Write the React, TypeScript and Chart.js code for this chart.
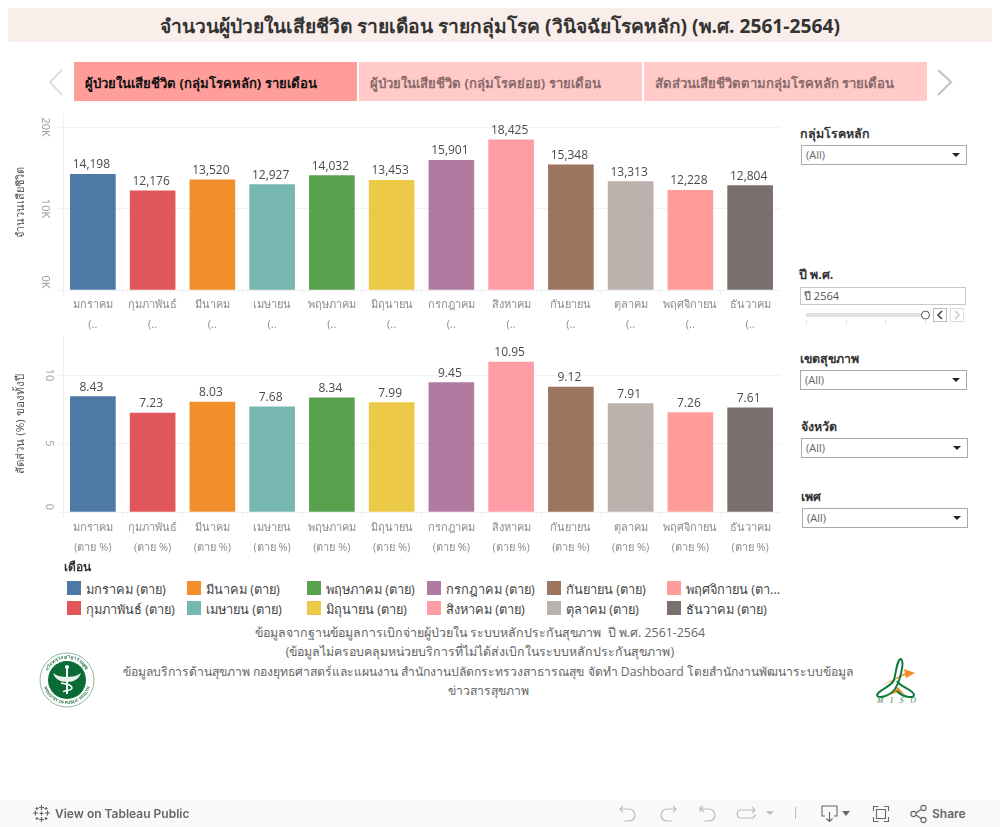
import React, { useEffect, useRef } from "react";
import { Chart, registerables } from "chart.js";

Chart.register(...registerables);

const months = ["มกราคม","กุมภาพันธ์","มีนาคม","เมษายน","พฤษภาคม","มิถุนายน","กรกฎาคม","สิงหาคม","กันยายน","ตุลาคม","พฤศจิกายน","ธันวาคม"];
const deaths = [14198,12176,13520,12927,14032,13453,15901,18425,15348,13313,12228,12804];
const shares = [8.43,7.23,8.03,7.68,8.34,7.99,9.45,10.95,9.12,7.91,7.26,7.61];
const deathTicks = [0,10000,20000];
const shareTicks = [0,5,10];
const colors = ["#4e79a7","#e15759","#f28e2b","#76b7b2","#59a14f","#edc948","#b07aa1","#ff9da7","#9c755f","#bab0ac","#ff9d9a","#79706e"];
const legendLabels = ["มกราคม (ตาย)","กุมภาพันธ์ (ตาย)","มีนาคม (ตาย)","เมษายน (ตาย)","พฤษภาคม (ตาย)","มิถุนายน (ตาย)","กรกฎาคม (ตาย)","สิงหาคม (ตาย)","กันยายน (ตาย)","ตุลาคม (ตาย)","พฤศจิกายน (ตา...","ธันวาคม (ตาย)"];
const tabs = ["ผู้ป่วยในเสียชีวิต (กลุ่มโรคหลัก) รายเดือน","ผู้ป่วยในเสียชีวิต (กลุ่มโรคย่อย) รายเดือน","สัดส่วนเสียชีวิตตามกลุ่มโรคหลัก รายเดือน"];

const FONT = '"Open Sans", "Noto Sans", sans-serif';

const noPad = (s: any) => {
  s.paddingTop = 0;
  s.paddingBottom = 0;
  s.paddingLeft = 0;
  s.paddingRight = 0;
};

const valueLabels = (fmt: (v: number) => string, zeroShift: number) => ({
  id: "valueLabels",
  beforeDraw(chart: any) {
    // Tableau keeps the zero label inside the pane: nudge it upward.
    const items = chart.scales.y.getLabelItems(chart.chartArea);
    items.forEach((item: any) => {
      if (item.label === "0K" || item.label === "0") item.options.translation[1] = chart.scales.y.getPixelForValue(0) - zeroShift;
    });
  },
  afterDatasetsDraw(chart: any) {
    const ctx = chart.ctx;
    const meta = chart.getDatasetMeta(0);
    const data = chart.data.datasets[0].data;
    ctx.save();
    ctx.font = `12px ${FONT}`;
    ctx.fillStyle = "#4a4a4a";
    ctx.textAlign = "center";
    ctx.textBaseline = "alphabetic";
    meta.data.forEach((bar: any, i: number) => ctx.fillText(fmt(data[i]), bar.x - 1.5, bar.y - 6));
    ctx.restore();
  },
});

function makeChart(canvas: HTMLCanvasElement, cfg: any) {
  return new Chart(canvas, {
    type: "bar",
    data: {
      labels: cfg.labels,
      datasets: [{ data: cfg.values, backgroundColor: colors, barThickness: 45 }],
    },
    plugins: [valueLabels(cfg.fmt, cfg.zeroShift)],
    options: {
      animation: false,
      responsive: false,
      layout: { padding: 0 },
      plugins: { legend: { display: false }, tooltip: { enabled: false } },
      scales: {
        x: {
          grid: { display: true, drawOnChartArea: false, color: "#efefef", tickLength: 5, offset: true },
          border: { color: "#efefef" },
          ticks: { color: "#8c8c8c", font: { family: FONT, size: 11, lineHeight: 1.8 }, maxRotation: 0, minRotation: 0, autoSkip: false, padding: cfg.xPad },
          afterFit(s: any) { s.height = cfg.xHeight; noPad(s); },
        },
        y: {
          min: 0,
          max: cfg.max,
          afterBuildTicks(s: any) { s.ticks = cfg.ticks.map((value: number) => ({ value })); },
          grid: { color: "#f2f2f2", tickLength: 5 },
          border: { color: "#efefef" },
          ticks: {
            color: "#999",
            font: { family: FONT, size: 11 },
            minRotation: -90,
            maxRotation: -90,
            crossAlign: "center",
            padding: 3,
            autoSkip: false,
            callback: cfg.tick,
          },
          title: { display: true, text: cfg.title, color: "#555", font: { family: FONT, size: cfg.titleSize }, padding: { top: 14, bottom: 0 } },
          afterFit(s: any) { s.width = 63; noPad(s); },
        },
      },
    },
  } as any);
}

const abs = (left: number, top: number, width?: number, height?: number): React.CSSProperties => ({ position: "absolute", left, top, width, height });

function Dropdown({ x, y, w }: { x: number; y: number; w: number }) {
  return (
    <div style={{ ...abs(x, y, w, 20), boxSizing: "border-box", border: "1px solid #aaa", background: "#fff", font: `11px ${FONT}`, color: "#666", lineHeight: "18px", paddingLeft: 4 }}>
      (All)
      <div style={{ position: "absolute", right: 6, top: 7, width: 0, height: 0, borderLeft: "4px solid transparent", borderRight: "4px solid transparent", borderTop: "4px solid #222" }} />
    </div>
  );
}

function FilterLabel({ x, y, text }: { x: number; y: number; text: string }) {
  return <div style={{ ...abs(x, y + 1), font: `bold 12.4px ${FONT}`, color: "#333", whiteSpace: "nowrap", lineHeight: "18px" }}>{text}</div>;
}

const Seal = () => (
  <svg style={abs(38, 651, 58, 58)} viewBox="0 0 58 58">
    <defs>
      <path id="ringTop" d="M7.500 29a21.500 21.500 0 0 1 43 0" />
      <path id="ringBottom" d="M5 29a24 24 0 0 0 48 0" />
    </defs>
    <circle cx="29" cy="29" r="27" fill="#fff" stroke="#8fb8a0" strokeWidth="1" />
    <circle cx="29" cy="29" r="19" fill="#0b6b35" />
    <text fontSize="5.2" fontWeight="bold" fill="#2f7d50" fontFamily={FONT}><textPath href="#ringTop" startOffset="50%" textAnchor="middle">กระทรวงสาธารณสุข</textPath></text>
    <text fontSize="4.2" fontWeight="bold" fill="#2f7d50" fontFamily={FONT}><textPath href="#ringBottom" startOffset="50%" textAnchor="middle">MINISTRY OF PUBLIC HEALTH</textPath></text>
    <path d="M29 16v27" stroke="#fff" strokeWidth="2" />
    <path d="M15 22c4 3 9 4 14 4s10-1 14-4c-2 6-7 9-14 9s-12-3-14-9z" fill="#e8f2ec" />
    <path d="M23 32c6 1 11 2 11 5s-8 2-9 4" stroke="#fff" strokeWidth="1.4" fill="none" />
    <circle cx="29" cy="16" r="2" fill="#fff" />
  </svg>
);

const Miso = () => (
  <svg style={abs(872, 654, 48, 52)} viewBox="0 0 48 52">
    <path d="M9 32 L33 19 L32 15 L43 19 L34 24 L33 21 Z" fill="#f28e2b" />
    <path d="M18 41 L26 33 L33 41 L26 38 Z" fill="#f28e2b" />
    <path d="M29 5c-4 0-5 14-7 21-3 7-16 10-17 15 0 4 12 2 18-6 5-8 10-27 6-30zM25 27c3 6 17 9 17 14 0 4-12 2-17-4" fill="none" stroke="#0f7a3c" strokeWidth="2" />
    <text x="5" y="49" fontFamily="Liberation Serif" fontStyle="italic" fontSize="7.5" fill="#2c8a50" letterSpacing="7">MISO</text>
  </svg>
);

const ic = { fill: "none", stroke: "#bdbdbd", strokeWidth: 1.2 };
const dk = { fill: "none", stroke: "#666", strokeWidth: 1.1 };
const Toolbar = () => (
  <div style={{ ...abs(0, 800, 1000, 27), background: "#f9f9f9" }}>
    <svg style={abs(32, 4, 19, 19)} viewBox="0 0 19 19" stroke="#666" strokeWidth="1.2">
      <path d="M9.500 1v5M7 3.500h5M9.500 13v5M7 15.500h5M3.500 6.500v5M1 9h5M15.500 6.500v5M13 9h5M9.500 7.500v4M7.500 9.500h4M5 3v3M3.500 4.500h3M14 3v3M12.500 4.500h3M5 13v3M3.500 14.500h3M14 13v3M12.500 14.500h3" />
    </svg>
    <div style={{ ...abs(55, 0), font: "600 12px Inter, Roboto, sans-serif", color: "#666", lineHeight: "27px", whiteSpace: "nowrap" }}>View on Tableau Public</div>
    <svg style={abs(610, 0, 390, 27)} viewBox="0 0 390 27">
      <path d="M13 6 L10 9 L13 12 M10 9 H19 a6 6 0 0 1 0 12 h-5" {...ic} />
      <path d="M63 6 L66 9 L63 12 M66 9 H57 a6 6 0 0 0 0 12 h5" {...ic} />
      <path d="M90 6v6M93 6 L91 9 L94 12 M91 9 H99 a6 6 0 0 1 0 12 h-5" {...ic} />
      <path d="M142 7l3 3-3 3M145 10h-14c-5 0-5 8 0 8h10c3 0 4-2 4-4" {...ic} />
      <path d="M156 11h8l-4 4z" fill="#bdbdbd" />
      <path d="M185.500 7v12" stroke="#bdbdbd" strokeWidth="1" />
      <path d="M224 16h3V6h-15v10h3M219.500 12v9M216.500 18.500l3 3 3-3" {...dk} />
      <path d="M232 11h8l-4 5z" fill="#666" />
      <path d="M263.500 11V6.500h5M274 6.500h4.500V11M278.500 17v4.500H274M268.500 21.500h-5V17M266.500 9.500h9v9h-9z" {...dk} />
      <circle cx="303.500" cy="14" r="2.600" {...dk} />
      <circle cx="313.500" cy="8" r="2.600" {...dk} />
      <circle cx="313.500" cy="20" r="2.600" {...dk} />
      <path d="M306 13l5-3.500M306 15l5 3.500" {...dk} />
    </svg>
    <div style={{ ...abs(932, 0), font: "600 12px Inter, Roboto, sans-serif", color: "#666", lineHeight: "27px" }}>Share</div>
  </div>
);

export default function App() {
  const top = useRef<HTMLCanvasElement>(null);
  const bottom = useRef<HTMLCanvasElement>(null);
  useEffect(() => {
    const a = makeChart(top.current!, {
      labels: months.map((m) => [m, "(.."]),
      values: deaths,
      ticks: deathTicks,
      max: 21600,
      xHeight: 52,
      xPad: 0,
      zeroShift: 8,
      titleSize: 11,
      tick: (v: number) => `${v / 1000}K`,
      fmt: (v: number) => v.toLocaleString("en-US"),
      title: "จำนวนเสียชีวิต",
    });
    const b = makeChart(bottom.current!, {
      labels: months.map((m) => [m, "(ตาย %)"]),
      values: shares,
      ticks: shareTicks,
      max: 12.85,
      xHeight: 48,
      xPad: 1,
      zeroShift: 5,
      titleSize: 11.5,
      tick: (v: number) => `${v}`,
      fmt: (v: number) => v.toFixed(2),
      title: "สัดส่วน (%) ของทั้งปี",
    });
    return () => {
      a.destroy();
      b.destroy();
    };
  }, []);

  return (
    <div style={{ ...abs(0, 0, 1000, 827), background: "#fff", overflow: "hidden", fontFamily: FONT }}>
      <div style={{ ...abs(8, 8, 984, 34), background: "#f9eee9", font: `bold 19.2px ${FONT}`, color: "#333", textAlign: "center", lineHeight: "36px" }}>
        จำนวนผู้ป่วยในเสียชีวิต รายเดือน รายกลุ่มโรค (วินิจฉัยโรคหลัก) (พ.ศ. 2561-2564)
      </div>

      <svg style={abs(46, 68, 20, 30)} viewBox="0 0 20 30"><path d="M16 2 L4 14 L16 27" fill="none" stroke="#e0e0e0" strokeWidth="2.2" /></svg>
      <svg style={abs(934, 68, 20, 30)} viewBox="0 0 20 30"><path d="M4 2 L17 14 L4 27" fill="none" stroke="#c4c4c4" strokeWidth="2.2" /></svg>

      {tabs.map((t, i) => (
        <div key={t} style={{ ...abs(74 + i * 285, 62, 283, 39), background: i === 0 ? "#ff9d9a" : "#ffcac8", font: `bold 13.1px ${FONT}`, color: i === 0 ? "#111" : "#8a6b6b", lineHeight: "43px", paddingLeft: 11, boxSizing: "border-box", whiteSpace: "nowrap" }}>{t}</div>
      ))}

      <canvas ref={top} width={780} height={228} style={abs(0, 114, 780, 228)} />
      <canvas ref={bottom} width={780} height={224} style={abs(0, 336, 780, 224)} />

      <FilterLabel x={800} y={124} text="กลุ่มโรคหลัก" />
      <Dropdown x={801} y={145} w={166} />
      <FilterLabel x={799} y={265} text="ปี พ.ศ." />
      <div style={{ ...abs(800, 287, 166, 18), boxSizing: "border-box", border: "1px solid #c8c8c8", font: `11px ${FONT}`, color: "#555", lineHeight: "16px", paddingLeft: 3 }}>ปี 2564</div>
      <svg style={abs(800, 306, 170, 20)} viewBox="0 0 170 20">
        <rect x="6" y="7" width="120" height="4" fill="#e2e2e2" />
        <circle cx="125.500" cy="9" r="4" fill="#fff" stroke="#555" />
        <path d="M6.500 14v4M46.500 14v4M85.500 14v4M125.500 14v4" stroke="#ddd" />
        <rect x="133.500" y="2.500" width="13" height="13" fill="#fff" stroke="#bbb" />
        <path d="M142 5l-4 4 4 4" fill="none" stroke="#444" strokeWidth="1.6" />
        <rect x="150.500" y="2.500" width="13" height="13" fill="#fff" stroke="#ddd" />
        <path d="M155 5l4 4-4 4" fill="none" stroke="#ccc" strokeWidth="1.6" />
      </svg>
      <FilterLabel x={800} y={349} text="เขตสุขภาพ" />
      <Dropdown x={800} y={370} w={167} />
      <FilterLabel x={801} y={417} text="จังหวัด" />
      <Dropdown x={801} y={438} w={167} />
      <FilterLabel x={801} y={487} text="เพศ" />
      <Dropdown x={802} y={508} w={166} />

      <div style={{ ...abs(64, 558), font: `bold 12px ${FONT}`, color: "#333", lineHeight: "18px" }}>เดือน</div>
      {legendLabels.map((l, i) => {
        const col = Math.floor(i / 2);
        const row = i % 2;
        return (
          <React.Fragment key={l}>
            <div style={{ ...abs(67 + col * 120, 581 + row * 20, 14, 14), background: colors[i] }} />
            <div style={{ ...abs(86 + col * 120, 579 + row * 20), font: `12.8px ${FONT}`, color: "#444", lineHeight: "20px", whiteSpace: "nowrap" }}>{l}</div>
          </React.Fragment>
        );
      })}

      <div style={{ ...abs(80, 623, 800), font: `12.4px ${FONT}`, color: "#666", textAlign: "center", lineHeight: "19px" }}>
        <div style={{ whiteSpace: "pre" }}>ข้อมูลจากฐานข้อมูลการเบิกจ่ายผู้ป่วยใน ระบบหลักประกันสุขภาพ  ปี พ.ศ. 2561-2564</div>
        <div>(ข้อมูลไม่ครอบคลุมหน่วยบริการที่ไม่ได้ส่งเบิกในระบบหลักประกันสุขภาพ)</div>
      </div>
      <div style={{ ...abs(88, 662, 800), font: `12.2px ${FONT}`, color: "#666", textAlign: "center", lineHeight: "19px" }}>
        <div>ข้อมูลบริการด้านสุขภาพ กองยุทธศาสตร์และแผนงาน สำนักงานปลัดกระทรวงสาธารณสุข จัดทำ Dashboard โดยสำนักงานพัฒนาระบบข้อมูล</div>
        <div>ข่าวสารสุขภาพ</div>
      </div>
      <Seal />
      <Miso />
      <Toolbar />
    </div>
  );
}
